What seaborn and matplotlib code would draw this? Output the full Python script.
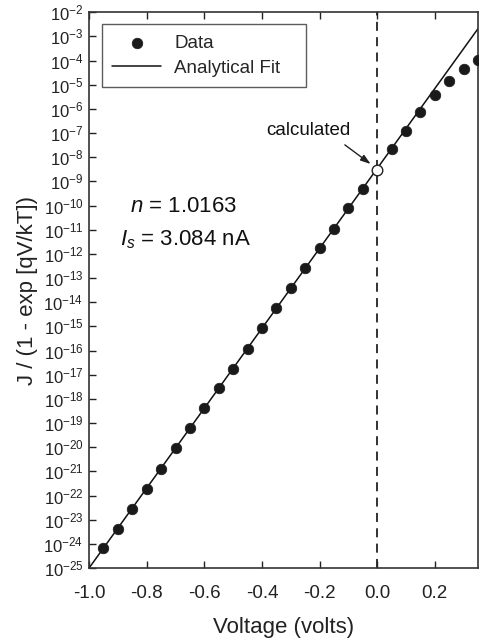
import numpy as np
import pandas as pd
import matplotlib
matplotlib.use("Agg")
import matplotlib.pyplot as plt
from matplotlib.ticker import LogLocator, LogFormatterSciNotation, NullLocator
import seaborn as sns

# measured points (voltage in volts, J / (1 - exp[qV/kT]))
voltage = [-0.95, -0.90, -0.85, -0.80, -0.75, -0.70, -0.65, -0.60, -0.55,
           -0.50, -0.45, -0.40, -0.35, -0.30, -0.25, -0.20, -0.15, -0.10,
           -0.05, 0.05, 0.10, 0.15, 0.20, 0.25, 0.30, 0.35]
current = [6.6e-25, 4.3e-24, 2.8e-23, 1.9e-22, 1.3e-21, 8.9e-21, 6.0e-20,
           4.1e-19, 2.7e-18, 1.8e-17, 1.2e-16, 8.3e-16, 5.5e-15, 3.7e-14,
           2.5e-13, 1.7e-12, 1.1e-11, 7.6e-11, 4.9e-10, 2.1e-8, 1.2e-7,
           7.1e-7, 3.6e-6, 1.4e-5, 4.6e-5, 1.1e-4]

# analytical fit end points
fit_v = [-1.0, 0.35]
fit_j = [1.0e-25, 2.1e-3]

# calculated saturation point at V = 0
calc_v = [0.0]
calc_j = [3.084e-9]

data = pd.DataFrame({"V": voltage, "J": current})
fit = pd.DataFrame({"V": fit_v, "J": fit_j})

sns.set_style("ticks")
plt.rcParams["font.family"] = ["Liberation Sans", "DejaVu Sans"]
plt.rcParams["mathtext.fontset"] = "custom"
plt.rcParams["mathtext.rm"] = "Liberation Sans"
plt.rcParams["mathtext.it"] = "Liberation Sans:italic"
plt.rcParams["mathtext.default"] = "regular"

fig = plt.figure(figsize=(4.79, 6.44), dpi=100)
ax = fig.add_axes([0.186, 0.118, 0.812, 0.863])

sns.lineplot(data=fit, x="V", y="J", ax=ax, color="#111111", linewidth=1.1,
             label="Analytical Fit   ")
sns.scatterplot(data=data, x="V", y="J", ax=ax, color="#1a1a1a", s=58,
                edgecolor="#1a1a1a", linewidth=0.5, label="Data", zorder=3)
ax.axvline(0.0, color="#222222", linestyle=(0, (5, 3.5)), linewidth=1.3, zorder=1)
ax.scatter(calc_v, calc_j, s=58, facecolor="white", edgecolor="#222222",
           linewidth=1.0, zorder=4)

ax.set_yscale("log")
ax.set_xlim(-1.0, 0.35)
ax.set_ylim(1e-25, 1e-2)
ax.set_xticks([-1.0, -0.8, -0.6, -0.4, -0.2, 0.0, 0.2])
ax.set_xticklabels(["-1.0", "-0.8", "-0.6", "-0.4", "-0.2", "0.0", "0.2"])
ax.yaxis.set_major_locator(LogLocator(base=10, numticks=40))
ax.yaxis.set_major_formatter(LogFormatterSciNotation())
ax.yaxis.set_minor_locator(NullLocator())

ax.tick_params(axis="both", direction="in", length=5, width=1.0,
               colors="#222222", top=True, right=False)
ax.tick_params(axis="y", labelsize=12, pad=4)
ax.tick_params(axis="x", labelsize=13.5, pad=12)
for sp in ax.spines.values():
    sp.set_color("#333333")
    sp.set_linewidth(1.2)

ax.set_xlabel("Voltage (volts)", fontsize=16, color="#222222", labelpad=11)
ax.set_ylabel("J / (1 - exp [qV/kT])", fontsize=16, color="#222222", labelpad=4)

# fitted parameters
ax.text(-0.858, 10**-10.27, r"$\mathit{n}$ = 1.0163", fontsize=16, color="#111111",
        va="baseline")
ax.text(-0.892, 10**-11.64, r"$\mathit{I_s}$ = 3.084 nA", fontsize=16, color="#111111",
        va="baseline")

ax.text(-0.24, 10**-6.9, "calculated", fontsize=13.5, color="#111111",
        ha="center", va="center")
ax.annotate("", xy=(-0.015, 10**-8.35), xytext=(-0.12, 10**-7.42),
            arrowprops=dict(arrowstyle="-|>,head_length=0.6,head_width=0.2",
                            color="#222222", lw=1.0))

handles, labels = ax.get_legend_handles_labels()
order = [labels.index("Data"), labels.index("Analytical Fit   ")]
leg = ax.legend([handles[i] for i in order], [labels[i] for i in order],
                loc="upper left", bbox_to_anchor=(0.033, 0.978), borderaxespad=0,
                fontsize=13.5, frameon=True, fancybox=False, handlelength=2.6,
                borderpad=0.55, labelspacing=0.4, handletextpad=0.7)
leg.get_frame().set_edgecolor("#333333")
leg.get_frame().set_linewidth(1.0)

fig.savefig("out.png", dpi=100)
